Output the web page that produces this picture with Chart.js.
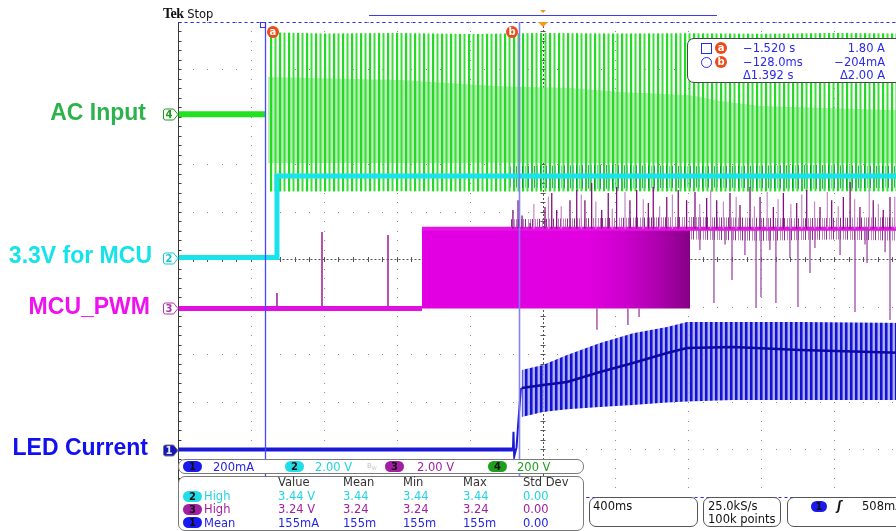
<!DOCTYPE html>
<html><head><meta charset="utf-8">
<script src="https://cdn.jsdelivr.net/npm/chart.js@4.4.1/dist/chart.umd.min.js"></script>
<style>
html,body{margin:0;padding:0;background:#fff;overflow:hidden;width:896px;height:531px;}
#wrap{position:relative;width:908px;height:531px;overflow:hidden;}
#c{position:absolute;left:0;top:0;}
.lbl{position:absolute;font-family:"Liberation Sans",Arial,sans-serif;font-weight:bold;font-size:23px;line-height:23px;white-space:nowrap;text-align:right;}
.box{position:absolute;background:#fff;border:1px solid #7a7a7a;border-radius:7px;box-sizing:border-box;}
.t{position:absolute;font-family:"DejaVu Sans",sans-serif;font-size:11.5px;line-height:12px;white-space:nowrap;}
.r{text-align:right;}
.pill{position:absolute;height:11px;width:19px;border-radius:6px;text-align:center;font-family:"DejaVu Sans",sans-serif;font-size:10px;line-height:11px;color:#111;font-weight:bold;}
.oc{position:absolute;width:12px;height:12px;border-radius:6px;background:#ee4a18;color:#fff;font-family:"DejaVu Sans",sans-serif;font-weight:bold;font-size:10px;line-height:11px;text-align:center;}
</style></head>
<body><div id="wrap"><canvas id="c" width="908" height="531"></canvas><div id="ov"></div></div>
<script>
// ---------------- data read from the screen ----------------
// time axis: 400 ms/div, 10 divisions, trigger at centre
const TIME_TICKS = [-2.0,-1.6,-1.2,-0.8,-0.4,0.0,0.4,0.8,1.2,1.6,2.0];
const DIV_TICKS  = [-5,-4,-3,-2,-1,0,1,2,3,4,5];
// channel order: 1 LED current, 2 3.3V, 3 PWM, 4 AC input
const CH_NAMES      = ['LED Current','3.3V for MCU','MCU_PWM','AC Input'];
const CH_PER_DIV    = [200, 2, 2, 200];        // mA/div, V/div, V/div, V/div
const CH_OFFSET_DIV = [-4.0, 0.04, -1.03, 3.06];

// CH4 AC input (V)
const AC_OFF_T   = [-2.0, -1.52];
const AC_OFF_V   = [0, 0];
const AC_ENV_T   = [-1.51,-1.2,-0.8,-0.4,0.0,0.4,0.8,1.2,1.6,2.0];
const AC_ENV_MAX = [345, 340, 342, 338, 342, 340, 341, 339, 342, 340];
const AC_ENV_MIN = [-326,-326,-325,-326,-326,-325,-326,-326,-325,-326];
const AC_BAND_T  = [-1.51,-0.785,-0.236,0.148,0.423,0.807,0.971,1.19,2.0];
const AC_BAND_HI = [156, 144, 118, 110, 93, 80, 55, 34, 15];
const AC_BAND_LO = [-206,-206,-205,-206,-206,-205,-206,-206,-206];

// CH2 3.3V rail (V)
const MCU_T = [-2.0, -1.4596, -1.4596, 2.0];
const MCU_V = [0, 0, 3.44, 3.44];
const MCU_NOISE_T  = [-0.18, 0.3, 0.9, 1.5, 2.0];
const MCU_NOISE_HI = [3.85, 3.9, 3.85, 3.9, 3.85];
const MCU_NOISE_LO = [2.95, 2.9, 2.95, 2.9, 2.95];

// CH3 PWM (V)
const PWM_LOW_T  = [-2.0, -0.664];
const PWM_LOW_V  = [0, 0];
const PWM_EARLY_T = [-1.4596, -1.2126, -0.8505];
const PWM_EARLY_V = [0.65, 3.22, 3.09];
const PWM_BAND_T = [-0.664, 0.807];
const PWM_BAND_V = [3.35, 3.35];
const PWM_HIGH_T = [-0.664, 2.0];
const PWM_HIGH_V = [3.35, 3.35];
const PWM_NOISE_T  = [-0.18, 0.2, 0.8, 1.4, 2.0];
const PWM_NOISE_HI = [3.75, 3.8, 3.85, 3.8, 3.85];
const PWM_NOISE_LO = [3.35, 3.35, 3.35, 3.35, 3.35];
const PWM_SAG_T  = [0.807, 1.2, 1.6, 2.0];
const PWM_SAG_HI = [3.35, 3.35, 3.35, 3.35];
const PWM_SAG_LO = [2.9, 2.85, 2.9, 2.85];
const PWM_UP_T = [-0.165,-0.137,-0.115,-0.071,0.011,0.048,0.075,0.148,0.185,0.230,0.267,0.322,0.358,0.404,0.477,0.514,0.578,0.605,0.679,0.742,0.788,0.834,0.898,0.953,1.026,1.081,1.136,1.191,1.264,1.319,1.392,1.447,1.520,1.584,1.648,1.685,1.739,1.812,1.867,1.904];
const PWM_UP_V = [4.14,4.56,3.91,3.60,4.27,4.86,4.14,4.56,4.99,4.56,5.28,4.14,4.86,5.11,4.56,4.99,4.44,5.11,4.69,4.99,4.56,4.90,4.65,4.56,4.86,4.35,5.11,4.69,4.27,4.86,4.44,4.99,4.27,4.56,4.69,5.32,4.27,4.56,4.14,4.69];
const PWM_UP2_T = [-0.05,0.03,0.10,0.21,0.29,0.38,0.45,0.55,0.64,0.71,0.86,0.92,0.99,1.06,1.16,1.23,1.29,1.36,1.42,1.49,1.56,1.62,1.71,1.79,1.84,1.93];
const PWM_UP2_V = [4.4,4.7,4.3,4.8,4.5,4.2,4.9,4.6,4.3,4.8,4.4,5.0,4.5,4.7,4.3,4.9,4.6,4.4,4.8,4.5,4.9,4.3,4.6,5.0,4.4,4.7];
const PWM_DN_T = [0.861,0.938,0.999,1.037,1.108,1.169,1.196,1.245,1.278,1.355,1.399,1.465,1.492,1.630,1.712,1.767,1.778,1.877,1.904];
const PWM_DN_V = [2.46,0.23,2.69,1.20,2.25,0.02,0.48,2.46,0.23,2.12,0.06,1.49,2.54,2.25,-0.15,2.69,1.91,2.37,-0.49];
const PWM_BOT_T = [0.296, 0.466, 0.527];
const PWM_BOT_V = [-0.90, -0.70, -0.36];

// CH1 LED current (mA)
const LED_OFF_T  = [-2.0, -0.165];
const LED_OFF_I  = [0, 0];
const LED_RISE_T = [-0.165,-0.162,-0.158,-0.145,-0.135,-0.121];
const LED_RISE_I = [0, 75, -30, 10, 120, 259];
const LED_ENV_T   = [-0.117,0.0,0.132,0.313,0.494,0.68,0.79,1.043,1.41,2.0];
const LED_ENV_MAX = [335, 356, 398, 448, 490, 516, 537, 537, 537, 533];
const LED_ENV_MIN = [137, 158, 170, 179, 187, 198, 202, 208, 208, 208];
const LED_MID     = [259, 272, 284, 326, 364, 406, 427, 432, 419, 406];

// cursors
const CURSOR_T  = [-1.520, -0.128];
const CURSOR_mA = [1800, -204];

// ---------------- helpers ----------------
const pts = (ts, vs) => ts.map((t, i) => ({x: t, y: vs[i]}));
const spikes = (ts, base, peaks) => {
  const d = [];
  ts.forEach((t, i) => { d.push({x: t, y: base}, {x: t, y: peaks[i]}, {x: t, y: null}); });
  return d;
};
function stripePattern(w, bands) {
  const c = document.createElement('canvas'); c.width = w; c.height = 8;
  const g = c.getContext('2d');
  bands.forEach(([x, wd, col]) => { g.fillStyle = col; g.fillRect(x, 0, wd, 8); });
  return g.createPattern(c, 'repeat');
}
const acStripes   = stripePattern(9, [[0, 2.2, '#22da22'], [4.5, 2.0, '#38e038']]);
const ledStripes  = stripePattern(5, [[0, 2, '#1212d2'], [2, 1.2, '#5a5ae6'], [3.2, 1.8, '#a8a8f2']]);
const pwmNoise    = stripePattern(7, [[0, 1, 'rgba(120,10,120,0.85)'], [3, 1, 'rgba(170,90,170,0.7)'], [5, 1, 'rgba(110,0,110,0.5)']]);
const mcuNoise    = stripePattern(6, [[0, 1, 'rgba(10,130,90,0.75)'], [3, 1, 'rgba(60,170,150,0.6)']]);

const axisFor = i => ({
  type: 'linear', display: false,
  min: (-5 - CH_OFFSET_DIV[i]) * CH_PER_DIV[i],
  max: (5 - CH_OFFSET_DIV[i]) * CH_PER_DIV[i]
});

const NONE = 'rgba(0,0,0,0)';
const line = (data, axis, color, width, order, extra) => Object.assign({
  data, yAxisID: axis, borderColor: color, borderWidth: width, pointRadius: 0,
  fill: false, order, tension: 0, spanGaps: false
}, extra || {});

const pwmGradient = ctx => {
  const ch = ctx.chart; if (!ch.chartArea) return '#e000e0';
  const xs = ch.scales.x;
  const x0 = xs.getPixelForValue(PWM_BAND_T[0]), x1 = xs.getPixelForValue(PWM_BAND_T[1]);
  const g = ch.ctx.createLinearGradient(x0, 0, x1, 0);
  g.addColorStop(0, '#e200e2'); g.addColorStop(0.62, '#e000e0');
  g.addColorStop(0.76, '#cc00cc'); g.addColorStop(0.9, '#a800a8'); g.addColorStop(1, '#860086');
  return g;
};

const datasets = [
  // CH4
  line(pts(AC_BAND_T, AC_BAND_HI), 'y4', NONE, 0, 30, {fill: '+1', backgroundColor: '#b4ecb4'}),
  line(pts(AC_BAND_T, AC_BAND_LO), 'y4', NONE, 0, 30),
  line(pts(AC_ENV_T, AC_ENV_MAX), 'y4', NONE, 0, 29, {fill: '+1', backgroundColor: acStripes}),
  line(pts(AC_ENV_T, AC_ENV_MIN), 'y4', NONE, 0, 29),
  line(pts(AC_OFF_T, AC_OFF_V), 'y4', '#22e022', 6, 28),
  // CH2
  line(pts(MCU_NOISE_T, MCU_NOISE_HI), 'y2', NONE, 0, 21, {fill: '+1', backgroundColor: mcuNoise}),
  line(pts(MCU_NOISE_T, MCU_NOISE_LO), 'y2', NONE, 0, 21),
  line(pts(MCU_T, MCU_V), 'y2', '#18e2ea', 5, 20),
  // CH3
  line(pts(PWM_BAND_T, PWM_BAND_V), 'y3', NONE, 0, 16, {fill: {value: 0}, backgroundColor: pwmGradient}),
  line(pts(PWM_LOW_T, PWM_LOW_V), 'y3', '#e010e0', 5, 15),
  line(spikes(PWM_EARLY_T, 0, PWM_EARLY_V), 'y3', '#9a1a9a', 1.5, 15),
  line(spikes(PWM_BOT_T, 0, PWM_BOT_V), 'y3', '#9a3a9a', 1.3, 15),
  line(pts(PWM_NOISE_T, PWM_NOISE_HI), 'y3', NONE, 0, 15, {fill: '+1', backgroundColor: pwmNoise}),
  line(pts(PWM_NOISE_T, PWM_NOISE_LO), 'y3', NONE, 0, 15),
  line(pts(PWM_SAG_T, PWM_SAG_HI), 'y3', NONE, 0, 15, {fill: '+1', backgroundColor: pwmNoise}),
  line(pts(PWM_SAG_T, PWM_SAG_LO), 'y3', NONE, 0, 15),
  line(pts(PWM_HIGH_T, PWM_HIGH_V), 'y3', '#e414e4', 4, 14),
  line(spikes(PWM_DN_T, 3.35, PWM_DN_V), 'y3', '#a04aa8', 1.3, 13),
  line(spikes(PWM_UP2_T, 3.35, PWM_UP2_V), 'y3', '#c48ac4', 1.2, 13),
  line(spikes(PWM_UP_T, 3.35, PWM_UP_V), 'y3', '#80107e', 1.3, 12),
  // CH1
  line(pts(LED_ENV_T, LED_ENV_MAX), 'y1', NONE, 0, 10, {fill: '+1', backgroundColor: ledStripes}),
  line(pts(LED_ENV_T, LED_ENV_MIN), 'y1', NONE, 0, 10),
  line(pts(LED_ENV_T, LED_MID), 'y1', '#0a0aa6', 2.5, 9),
  line(pts(LED_OFF_T, LED_OFF_I), 'y1', '#1a1ad6', 4, 8),
  line(pts(LED_RISE_T, LED_RISE_I), 'y1', '#1a1ad6', 2, 8)
];

// ---------------- graticule & screen furniture ----------------
const graticule = {
  id: 'graticule',
  beforeDatasetsDraw(chart) {
    const {ctx, chartArea: a, scales} = chart;
    const xs = scales.x, yd = scales.yd;
    const xp = TIME_TICKS.map(t => xs.getPixelForValue(t));
    const yp = DIV_TICKS.map(d => yd.getPixelForValue(d));
    const mx = (xp[1] - xp[0]) / 5, my = Math.abs(yp[1] - yp[0]) / 5;
    const cx = xs.getPixelForValue(0), cy = yd.getPixelForValue(0);
    ctx.save();
    ctx.fillStyle = '#8e8e8e';
    xp.forEach(px => {
      if (Math.abs(px - cx) < 1 || px < a.left + 2) return;
      for (let y = a.top; y <= a.bottom + 0.5; y += my) ctx.fillRect(Math.floor(px), Math.floor(y), 1, 1);
    });
    yp.forEach(py => {
      if (Math.abs(py - cy) < 1) return;
      for (let x = a.left; x <= a.right + 0.5; x += mx) ctx.fillRect(Math.floor(x), Math.floor(py), 1, 1);
    });
    ctx.strokeStyle = '#555'; ctx.lineWidth = 1;
    ctx.setLineDash([2, 2]);
    ctx.beginPath(); ctx.moveTo(a.left, Math.floor(cy) + 0.5); ctx.lineTo(a.right, Math.floor(cy) + 0.5); ctx.stroke();
    ctx.beginPath(); ctx.moveTo(Math.floor(cx) + 0.5, a.top); ctx.lineTo(Math.floor(cx) + 0.5, a.bottom); ctx.stroke();
    ctx.setLineDash([]);
    ctx.beginPath();
    for (let x = a.left; x <= a.right; x += mx) { ctx.moveTo(Math.floor(x) + 0.5, cy - 2.5); ctx.lineTo(Math.floor(x) + 0.5, cy + 2.5); }
    for (let y = a.top; y <= a.bottom; y += my) { ctx.moveTo(cx - 2.5, Math.floor(y) + 0.5); ctx.lineTo(cx + 2.5, Math.floor(y) + 0.5); }
    ctx.stroke();
    ctx.strokeStyle = '#3a3a3a';
    ctx.beginPath(); ctx.moveTo(Math.floor(a.left) + 0.5, a.top); ctx.lineTo(Math.floor(a.left) + 0.5, a.bottom); ctx.stroke();
    ctx.beginPath();
    for (let y = a.top; y <= a.bottom; y += my) { ctx.moveTo(a.left, Math.floor(y) + 0.5); ctx.lineTo(a.left + 3, Math.floor(y) + 0.5); }
    ctx.stroke();
    ctx.restore();
  },
  afterDatasetsDraw(chart) {
    const {ctx, chartArea: a, scales} = chart;
    const xs = scales.x, y1 = scales.y1;
    ctx.save();
    const xa = Math.floor(xs.getPixelForValue(CURSOR_T[0])) + 0.5;
    const xb = Math.floor(xs.getPixelForValue(CURSOR_T[1])) + 0.5;
    ctx.strokeStyle = '#4848ff'; ctx.lineWidth = 1.3;
    ctx.beginPath(); ctx.moveTo(xa, a.top); ctx.lineTo(xa, a.bottom); ctx.stroke();
    ctx.strokeStyle = 'rgba(125,125,248,0.95)'; ctx.lineWidth = 1.6;
    ctx.beginPath(); ctx.moveTo(xb, a.top); ctx.lineTo(xb, a.bottom); ctx.stroke();
    ctx.strokeStyle = '#2c2cf0'; ctx.lineWidth = 1; ctx.setLineDash([3, 3]);
    CURSOR_mA.forEach(v => {
      const y = Math.min(Math.max(y1.getPixelForValue(v), a.top), a.bottom);
      const yy = Math.floor(y) + 0.5;
      ctx.beginPath(); ctx.moveTo(a.left, yy); ctx.lineTo(a.right, yy); ctx.stroke();
    });
    ctx.setLineDash([]);
    ctx.strokeStyle = '#3434f2';
    ctx.strokeRect(xa - 5, a.top + 0.5, 5, 5);
    const cx = xs.getPixelForValue(0);
    ctx.fillStyle = '#f39a1c';
    ctx.beginPath(); ctx.moveTo(cx - 5, a.top); ctx.lineTo(cx + 5, a.top); ctx.lineTo(cx, a.top + 5); ctx.closePath(); ctx.fill();
    ctx.beginPath(); ctx.moveTo(cx - 3, 10); ctx.lineTo(cx + 3, 10); ctx.lineTo(cx, 13); ctx.closePath(); ctx.fill();
    ctx.strokeStyle = '#3d3de6'; ctx.lineWidth = 1;
    ctx.beginPath(); ctx.moveTo(369, 15.5); ctx.lineTo(717, 15.5); ctx.stroke();
    const mk = [
      ['y4', '4', '#fff', '#1f9a1f', '#1f9a1f'],
      ['y2', '2', '#fff', '#19c6d0', '#19c6d0'],
      ['y3', '3', '#fff', '#a83aa8', '#a83aa8'],
      ['y1', '1', '#1818b8', '#777', '#e8e8ff']
    ];
    mk.forEach(([ax, n, fill, stroke, txt]) => {
      const y = Math.round(scales[ax].getPixelForValue(0)) + 0.5;
      const x0 = 163.5, x1 = 173.5, x2 = 178;
      ctx.beginPath();
      ctx.moveTo(x0 + 2, y - 5.5); ctx.lineTo(x1, y - 5.5); ctx.lineTo(x2, y); ctx.lineTo(x1, y + 5.5);
      ctx.lineTo(x0 + 2, y + 5.5); ctx.quadraticCurveTo(x0, y + 5.5, x0, y + 3.5); ctx.lineTo(x0, y - 3.5);
      ctx.quadraticCurveTo(x0, y - 5.5, x0 + 2, y - 5.5); ctx.closePath();
      ctx.fillStyle = fill; ctx.fill(); ctx.strokeStyle = stroke; ctx.lineWidth = 1; ctx.stroke();
      ctx.fillStyle = txt; ctx.font = 'bold 10px "DejaVu Sans"'; ctx.textAlign = 'center'; ctx.textBaseline = 'middle';
      ctx.fillText(n, 169, y + 0.5);
    });
    ctx.restore();
  }
};

const chart = new Chart(document.getElementById('c'), {
  type: 'line',
  data: {datasets},
  options: {
    responsive: false, animation: false, devicePixelRatio: 1,
    layout: {padding: {left: 178.5, right: 0.5, top: 22, bottom: 34}},
    plugins: {legend: {display: false}, tooltip: {enabled: false}},
    elements: {point: {radius: 0}, line: {borderCapStyle: 'butt'}},
    scales: {
      x: {type: 'linear', display: false, min: TIME_TICKS[0], max: TIME_TICKS[TIME_TICKS.length - 1]},
      yd: {type: 'linear', display: false, min: DIV_TICKS[0], max: DIV_TICKS[DIV_TICKS.length - 1]},
      y1: axisFor(0), y2: axisFor(1), y3: axisFor(2), y4: axisFor(3)
    }
  },
  plugins: [graticule]
});

// ---------------- text overlays (real text) ----------------
const ov = document.getElementById('ov');
function add(cls, html, css) { const d = document.createElement('div'); d.className = cls; d.innerHTML = html; d.style.cssText = css; ov.appendChild(d); return d; }

const LABEL_RIGHT = [148, 152, 150, 146];
const LABEL_COLS  = ['#1010f0', '#14e4ea', '#f010f0', '#2db34b'];
['y1','y2','y3','y4'].forEach((ax, i) => {
  const y = chart.scales[ax].getPixelForValue(0);
  add('lbl', CH_NAMES[i], `left:0;width:${LABEL_RIGHT[i]}px;top:${y - 13.5}px;color:${LABEL_COLS[i]};`);
});

add('t', '<span style="font-family:\'Liberation Serif\',serif;font-weight:bold;font-size:14px;letter-spacing:-0.5px">Tek</span><span style="font-size:11.5px"> Stop</span>', 'left:163px;top:6px;line-height:15px;color:#111;');

const xsc = chart.scales.x;
add('oc', 'a', `left:${xsc.getPixelForValue(CURSOR_T[0]) + 1}px;top:26px;`);
add('oc', 'b', `left:${xsc.getPixelForValue(CURSOR_T[1]) - 13.5}px;top:26px;`);

add('box', '', 'left:687px;top:38px;width:240px;height:45px;border-color:#444;');
const CB = '#2a2aee';
add('t', '', `left:701px;top:43px;width:9px;height:9px;border:1px solid ${CB};`);
add('t', '', `left:701px;top:57px;width:9px;height:9px;border:1px solid ${CB};border-radius:6px;`);
add('oc', 'a', 'left:715px;top:42px;');
add('oc', 'b', 'left:715px;top:56px;');
const CUR_LEFT  = ['\u22121.520 s', '\u2212128.0ms', '\u03941.392 s'];
const CUR_RIGHT = ['1.80 A', '\u2212204mA', '\u03942.00 A'];
const CUR_TOPS  = [41.5, 55.5, 68.5];
CUR_LEFT.forEach((s, i) => add('t', s, `left:743px;top:${CUR_TOPS[i]}px;color:${CB};`));
CUR_RIGHT.forEach((s, i) => add('t r', s, `left:785px;width:100px;top:${CUR_TOPS[i]}px;color:${CB};`));

add('box', '', 'left:178px;top:459px;width:406px;height:15px;');
const SET_PILL_X = [183, 285, 385, 488];
const SET_TEXT_X = [213, 315, 417, 517];
const SET_TEXT   = ['200mA', '2.00 V', '2.00 V', '200 V'];
const PILL_COLS  = ['#1a1aee', '#22dde6', '#a21ea2', '#1ea01e'];
const TXT_COLS   = ['#2424e8', '#1ed6e0', '#a21ea2', '#1ea01e'];
['1','2','3','4'].forEach((n, i) => {
  add('pill', n, `left:${SET_PILL_X[i]}px;top:461px;background:${PILL_COLS[i]};`);
  add('t', SET_TEXT[i], `left:${SET_TEXT_X[i]}px;top:460.5px;color:${TXT_COLS[i]};`);
});
add('t', 'B<sub style="font-size:5px">W</sub>', 'left:367px;top:460px;font-size:7px;color:#c0c0c0;');

add('box', '', 'left:178px;top:476px;width:406px;height:55px;');
const COL_X = [278, 343, 403, 463, 523];
const HEAD = ['Value', 'Mean', 'Min', 'Max', 'Std Dev'];
HEAD.forEach((h, i) => add('t', h, `left:${COL_X[i]}px;top:476px;color:#333;`));
const ROW_CH   = ['2', '3', '1'];
const ROW_NAME = ['High', 'High', 'Mean'];
const ROW_VALS = [['3.44 V','3.44','3.44','3.44','0.00'], ['3.24 V','3.24','3.24','3.24','0.00'], ['155mA','155m','155m','155m','0.00']];
const ROW_PILL = ['#22dde6', '#a21ea2', '#1a1aee'];
const ROW_COL  = ['#1ed6e0', '#a21ea2', '#2424e8'];
const ROW_TOP  = [490, 503, 516.5];
ROW_CH.forEach((n, r) => {
  add('pill', n, `left:183px;top:${ROW_TOP[r] + 0.5}px;background:${ROW_PILL[r]};`);
  add('t', ROW_NAME[r], `left:204px;top:${ROW_TOP[r]}px;color:${ROW_COL[r]};`);
  ROW_VALS[r].forEach((v, i) => add('t', v, `left:${COL_X[i]}px;top:${ROW_TOP[r]}px;color:${ROW_COL[r]};`));
});

add('box', '', 'left:589px;top:497px;width:109px;height:30px;border-color:#555;');
add('t', '400ms', 'left:593px;top:500px;color:#111;');
add('box', '', 'left:703px;top:497px;width:78px;height:30px;border-color:#555;');
add('t', '25.0kS/s', 'left:708px;top:500px;color:#111;');
add('t', '100k points', 'left:708px;top:512.5px;color:#111;');
add('box', '', 'left:787px;top:497px;width:140px;height:30px;border-color:#555;');
add('pill', '1', 'left:811px;top:500.5px;width:16px;background:#1a1aee;');
add('t', '\u0283', 'left:837px;top:500px;color:#111;font-style:italic;font-weight:bold;');
add('t', '508mA', 'left:862px;top:500px;color:#111;');
</script>
</body></html>
